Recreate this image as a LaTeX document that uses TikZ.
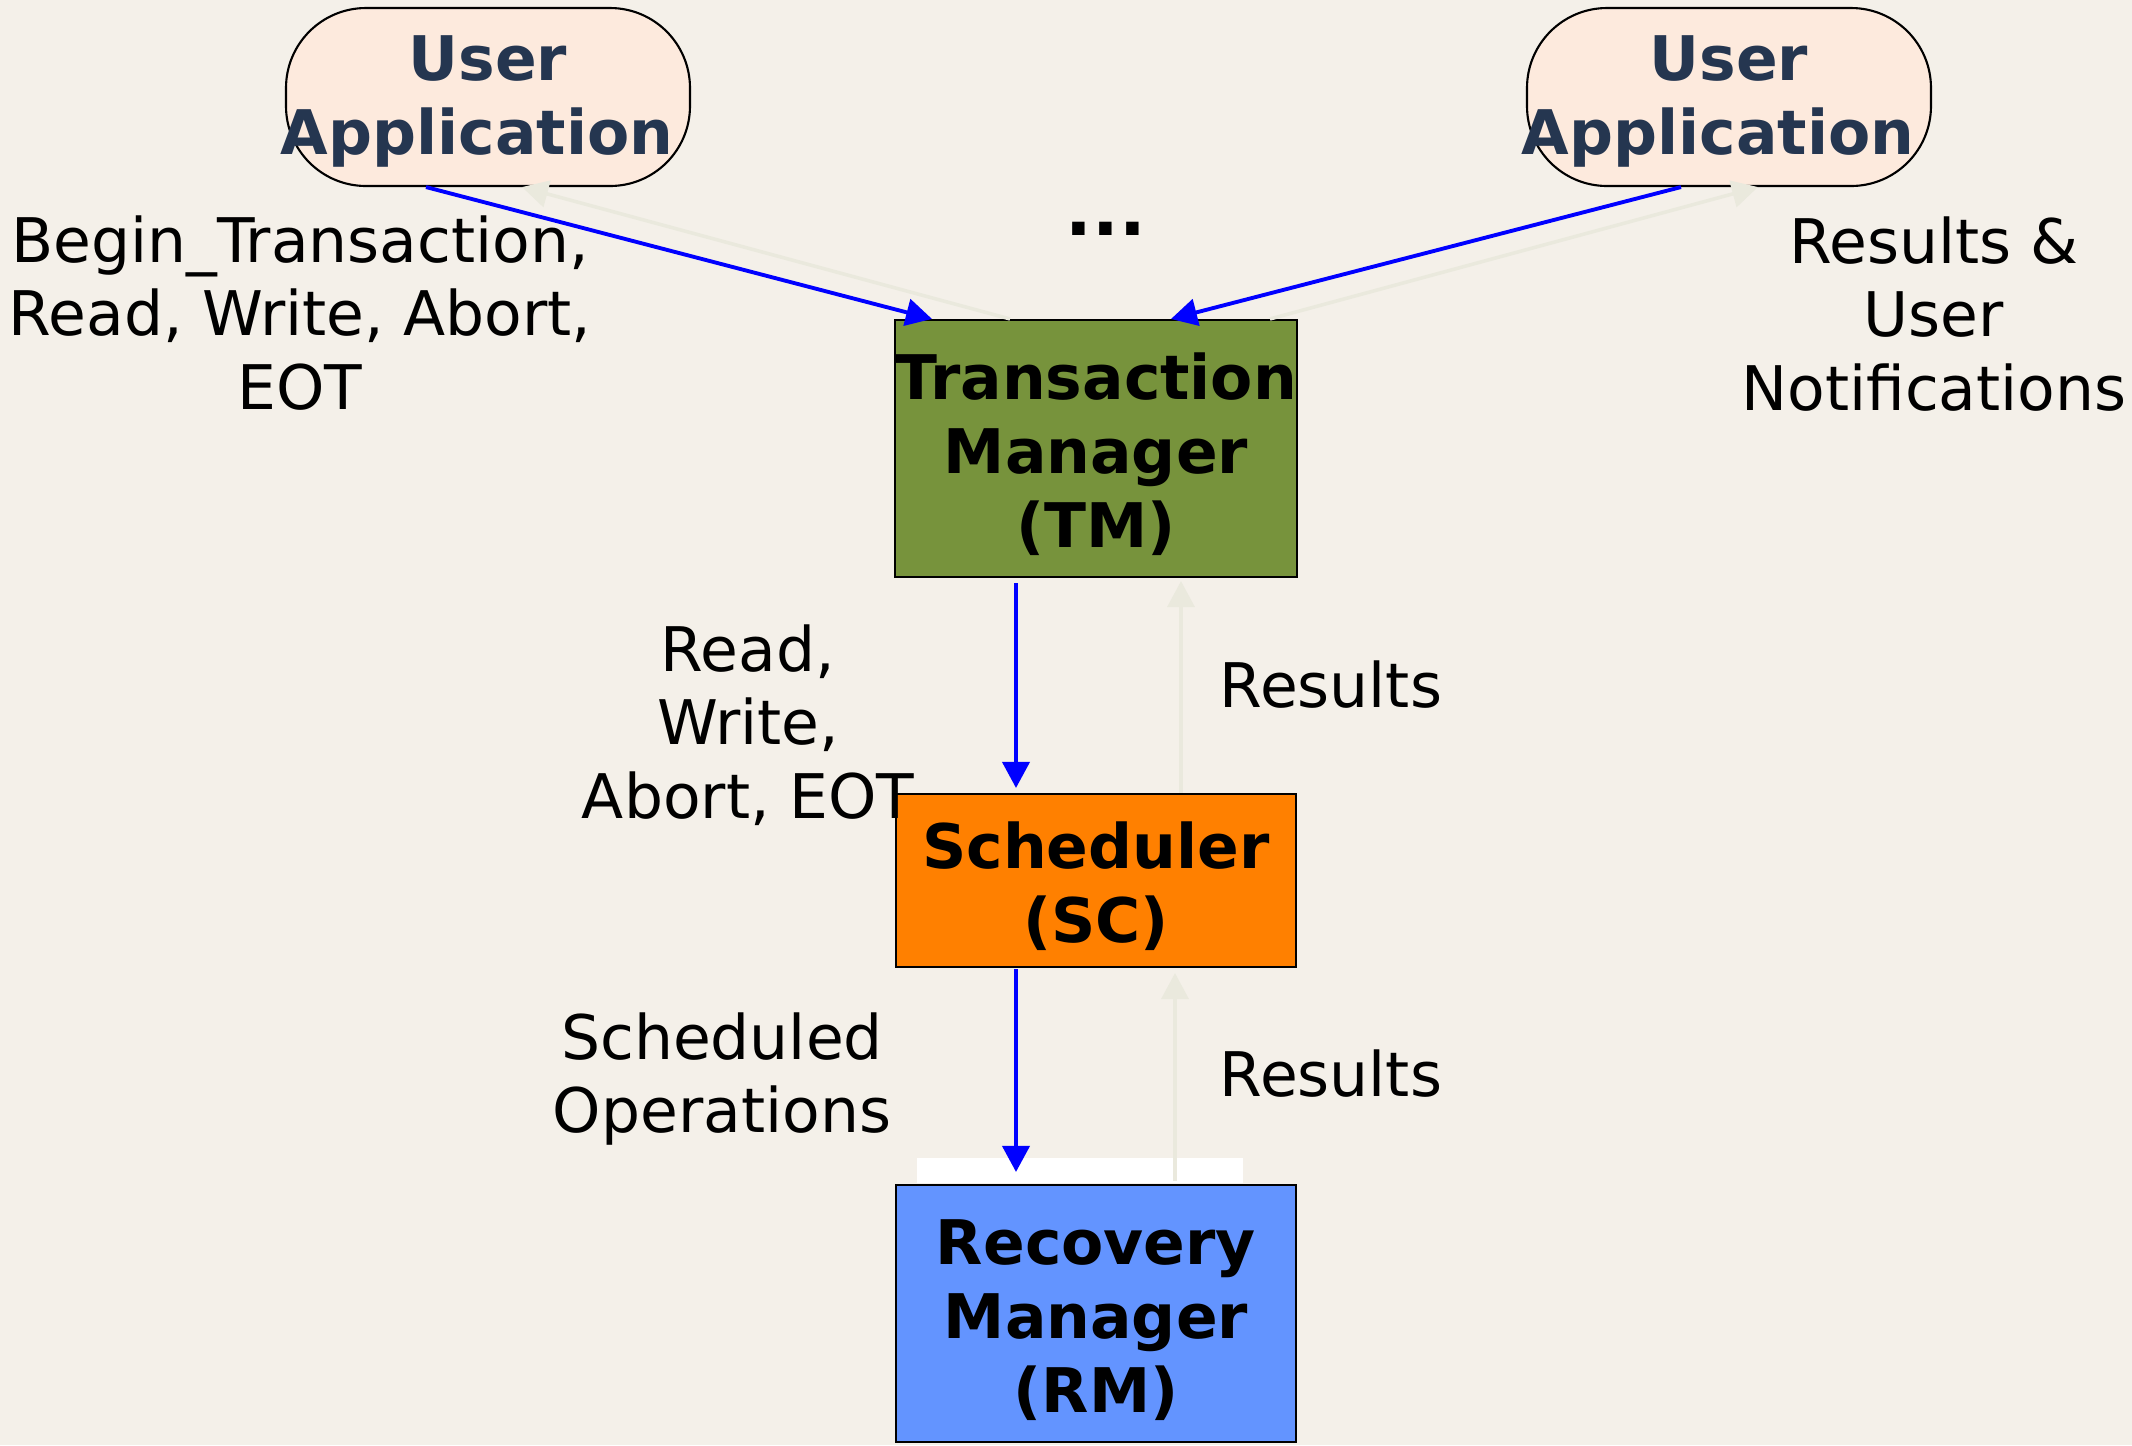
\documentclass[tikz,border=0pt]{standalone}
\usepackage{fontspec}
\setmainfont{DejaVu Sans}
\usepackage{xcolor}
\usepackage{tikz}
\usetikzlibrary{arrows.meta}
\definecolor{paper}{HTML}{F4F0E9}
\definecolor{peach}{HTML}{FDEADD}
\definecolor{navy}{HTML}{253650}
\definecolor{olive}{HTML}{77933C}
\definecolor{tangerine}{HTML}{FF8000}
\definecolor{sky}{HTML}{6394FF}
\definecolor{ghost}{HTML}{EAE9DD}
% overflowing second line of the application boxes
\newcommand{\appline}{\makebox[3.5cm][c]{Application\hspace*{0.22cm}}}
% taller first line, pushes the box text a bit down
\newcommand{\lift}[1][0.58cm]{\rule{0pt}{#1}}

\begin{document}
\begin{tikzpicture}[>={Triangle[width=0.27cm,length=0.26cm]},
        app/.style={draw=black, line width=0.6pt, fill=peach, rounded corners=0.8cm,
            minimum width=4.04cm, minimum height=1.78cm, inner sep=0pt, align=center,
            text=navy, font=\bfseries\fontsize{17.5}{21}\selectfont},
        unit/.style={draw=black, line width=0.6pt, minimum width=4cm, inner sep=0pt,
            align=center, font=\bfseries\fontsize{17.5}{21}\selectfont},
        lbl/.style={align=center, inner sep=0pt, font=\fontsize{17.5}{21}\selectfont},
        call/.style={->, blue, line width=1.1pt},
        reply/.style={->, ghost, line width=1pt}]
        % paper background, fixes the page size
        \fill[paper] (0,0) rectangle (21.32,-14.45);
        \useasboundingbox (0,0) rectangle (21.32,-14.45);

        % the two user applications
        \node[app] (ua1) at (4.88,-0.97) {\lift[0.53cm]User\\\appline};
        \node[app] (ua2) at (17.29,-0.97) {\lift[0.53cm]User\\\appline};

        % the three managers
        \node[unit, fill=olive, minimum height=2.57cm] (tm) at (10.96,-4.485) {\lift Transaction\\Manager\\(TM)};
        \node[unit, fill=tangerine, minimum height=1.73cm] (sc) at (10.96,-8.805) {\lift Scheduler\\(SC)};
        \node[unit, fill=sky, minimum height=2.57cm] (rm) at (10.96,-13.135) {\lift Recovery\\Manager\\(RM)};

        % white strip above the recovery manager
        \fill[white] (9.17,-11.58) rectangle (12.43,-11.83);

        % requests and replies
        \draw[call] ([xshift=-0.62cm]ua1.south) -- ([xshift=-1.64cm]tm.north);
        \draw[reply] ([xshift=-0.86cm]tm.north) -- ([xshift=0.34cm]ua1.south);
        \draw[call] ([xshift=-0.48cm]ua2.south) -- ([xshift=0.75cm]tm.north);
        \draw[reply] ([xshift=1.74cm]tm.north) -- ([xshift=0.29cm]ua2.south);
        \draw[call] ([xshift=-0.80cm,yshift=-0.05cm]tm.south) -- ([xshift=-0.80cm,yshift=0.05cm]sc.north);
        \draw[reply] ([xshift=0.85cm]sc.north) -- ([xshift=0.85cm,yshift=-0.03cm]tm.south);
        \draw[call] ([xshift=-0.80cm,yshift=-0.01cm]sc.south) -- ([xshift=-0.80cm,yshift=0.12cm]rm.north);
        \draw[reply] ([xshift=0.79cm,yshift=0.03cm]rm.north) -- ([xshift=0.79cm,yshift=-0.05cm]sc.south);

        % labels
        \node[lbl] (reqs) at (3.00,-3.13) {Begin\_Transaction,\\Read, Write, Abort,\\EOT};
        \node[inner sep=0pt, font=\bfseries\fontsize{20}{24}\selectfont] (dots) at (11.06,-2.29) {...};
        \node[lbl] (notes) at (19.34,-3.14) {Results \&\\User\\Notifications};
        \node[lbl] (ops) at (7.48,-7.25) {Read,\\Write,\\Abort, EOT};
        \node[lbl] (res1) at (13.31,-6.85) {Results};
        \node[lbl] (sched) at (7.22,-10.79) {Scheduled\\Operations};
        \node[lbl] (res2) at (13.31,-10.74) {Results};
\end{tikzpicture}
\end{document}
